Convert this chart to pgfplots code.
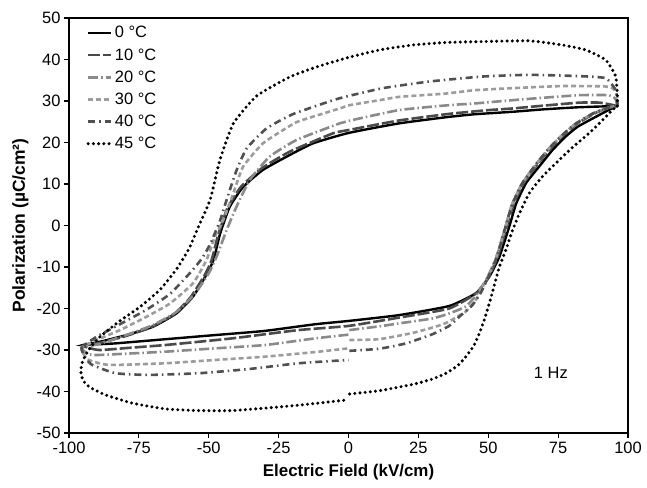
\documentclass[border=0pt]{standalone}
\usepackage{fontspec}
\setmainfont{Liberation Sans}
\usepackage{pgfplots}
\pgfplotsset{compat=1.18}

\definecolor{gA}{HTML}{4A4A4A}
\definecolor{gB}{HTML}{8A8A8A}
\definecolor{gC}{HTML}{9C9C9C}
\definecolor{gD}{HTML}{505050}

\begin{document}
\begin{tikzpicture}
\begin{axis}[
  scale only axis,
  width=559bp, height=415bp,
  xmin=-100, xmax=100, ymin=-50, ymax=50,
  xtick={-100,-75,...,100},
  ytick={-50,-40,...,50},
  xtick pos=bottom, ytick pos=left,
  tick align=outside,
  major tick length=5bp,
  tick style={black, line width=1.2bp},
  axis line style={line width=1.8bp},
  /pgf/number format/assume math mode=true,
  ticklabel style={font=\fontsize{16.5}{19}\selectfont},
  xticklabel style={yshift=-1bp},
  xlabel={\textbf{Electric Field (kV/cm)}},
  ylabel={\textbf{Polarization (µC/cm²)}},
  xlabel style={font=\fontsize{17}{20}\selectfont, at={(axis description cs:0.5,-0.094)}, anchor=center},
  ylabel style={font=\fontsize{17.5}{20}\selectfont, at={(axis description cs:-0.087,0.5)}, anchor=center},
  unbounded coords=jump,
  every axis plot/.append style={smooth, tension=0.3},
  legend cell align=left,
  legend style={at={(axis description cs:0.031,0.985)}, anchor=north west,
    draw=none, fill=none, font=\fontsize{16.5}{19}\selectfont,
    row sep=5.2bp, inner sep=0pt},
  legend image code/.code={\draw[#1, sharp plot] (0bp,0bp) -- (23bp,0bp);},
]

% 0 C
\addplot[black, line width=2.4bp] coordinates {
(96.2,28.8) (82.5,28.5) (70,28) (58.7,27.4) (45,26.8) (35,26.1) (18,24.6) (0,22.3)
(-12.7,19.8) (-21,17) (-30.6,13.4) (-37.7,9.3) (-42.5,4.5) (-45.9,-1.9) (-48.3,-8.3)
(-50.8,-11.8) (-55.6,-17.1) (-61.6,-21.2) (-70,-24.4) (-79.4,-26.4) (-88.9,-28.0) (-95,-28.8)
(-89,-28.6) (-83.3,-28.4) (-65.5,-27.4) (-47.7,-26.4) (-30,-25.4) (-12,-23.8) (0,-23)
(18,-21.6) (36,-19.4) (45.6,-16.3) (50.4,-12.3) (54,-7.5) (57.5,-0.3) (60,5.3)
(63.5,10.2) (68.2,14.2) (73,18.2) (77.8,21.5) (82,23.8) (88.5,26.2) (93,27.8) (96.2,28.8)
};
\addlegendentry{0 °C}

% 10 C
\addplot[gA, line width=2.6bp, dash pattern=on 12bp off 3bp] coordinates {
(96.2,28.8) (90,29.6) (82.5,29.6) (70,28.9) (58.7,28.2) (50,27.8) (36,26.9) (18,25.3) (0,23.0)
(-5.6,22.2) (-21,17.8) (-31,13.8) (-38.5,9.3) (-43.3,4.2) (-46.6,-2.2) (-49,-8.4)
(-51.5,-12) (-56.5,-17.3) (-62.5,-21.4) (-71,-24.6) (-80,-26.7) (-89,-28.3) (-95,-29)
(-89.3,-30) (-77,-29.4) (-65.5,-28.8) (-41.7,-27.2) (-17.9,-25.2) (0,-24.2)
(18,-22.2) (36,-20) (46,-16.2) (50,-12.6) (53.2,-7.8) (56.5,-0.5) (59,5) (62.5,10)
(67.2,14.4) (72,18.4) (77,21.8) (81.5,24.4) (88,27) (93,28.4) (96.2,28.8)
};
\addlegendentry{10 °C}

% 20 C
\addplot[gB, line width=2.6bp, dash pattern=on 10bp off 3bp on 1.5bp off 3bp] coordinates {
(96.2,28.8) (95.5,30.5) (93.2,31.4) (82.5,31.4) (70,30.8) (58.7,30.2) (45,29.4) (36,29)
(18,27.8) (0,25.2) (-3.2,24.6) (-18.6,20.6) (-28.2,16.6) (-35.3,11) (-40.1,4.5)
(-43.6,-1.1) (-47.2,-7.5) (-50,-11.5) (-55,-16.5) (-61.5,-20.8) (-70,-24) (-80,-26.5)
(-89,-28.5) (-95.5,-29.5)
(-93,-31) (-89.3,-31.2) (-65.5,-30.4) (-47.7,-29.6) (-29.8,-28.8) (-12,-27.2) (0,-26.3)
(0,nan)
(0.3,-25.2) (11,-24.3) (18,-23.6) (30,-22.4) (36,-21.2) (42,-19.5) (46,-16.5) (49.5,-12.8) (52.7,-8)
(56,-0.7) (58.5,5) (62,10) (66.7,14.4) (71.5,18.4) (76.5,21.8) (81,24.4) (87.5,27)
(93,28.4) (96.2,28.8)
};
\addlegendentry{20 °C}

% 30 C
\addplot[gC, line width=2.6bp, dash pattern=on 5bp off 3bp] coordinates {
(96.2,28.8) (96.2,31) (95,32.8) (92,33.5) (76.5,33.6) (58.7,33.1) (45,32.6) (34.9,31.8)
(18.2,31.0) (11.1,30.2) (0.4,29) (-3.2,28.2) (-17.5,25.2) (-21,24) (-30.6,19.8)
(-37.7,14.2) (-41.2,7.8) (-44.8,1.3) (-47.7,-2.5) (-50.8,-8.3) (-55.6,-13.9)
(-63.9,-18.8) (-72.3,-22) (-81.8,-25.2) (-90.1,-27.6) (-95.5,-29.5)
(-93.5,-32.2) (-88,-33.4) (-83.3,-33.6) (-65.5,-33.2) (-47.7,-32.4) (-29.8,-31.6)
(-12,-30.5) (0,-29.6)
(0,nan)
(0.3,-27.6) (11,-27.4) (22.9,-25.9) (30,-24.6) (34.9,-23.5) (42,-20.7) (46,-17.5)
(49.5,-12.8) (52.7,-8) (56,-0.7) (58.5,5) (62,10) (66.7,14.4) (71.5,18.4) (76.5,21.8)
(81,24.4) (87.5,27) (93,28.4) (96.2,28.8)
};
\addlegendentry{30 °C}

% 40 C
\addplot[gD, line width=2.6bp, dash pattern=on 7bp off 4bp on 1.5bp off 4bp] coordinates {
(96.2,28.8) (96,31) (95.6,32.7) (92,35.5) (82.5,36) (64.6,36.3) (48,35.9) (29,34.7)
(12.3,33.1) (0,31.2) (-5.5,30.2) (-20,26.8) (-29.3,23.4) (-36.4,18.6) (-40,13.4)
(-43.6,6.2) (-45.9,1.3) (-49.5,-4.5) (-52.5,-8) (-56.8,-11.5) (-63.9,-16.5)
(-72.3,-20.3) (-81.8,-23.8) (-90.1,-26.8) (-95.5,-29.5)
(-94,-32) (-91.7,-33.6) (-83.3,-35.6) (-71.4,-36) (-53.6,-35.6) (-35.8,-34.6)
(-17.9,-33.2) (0,-32.4)
(0,nan)
(0.3,-30.2) (11,-29.7) (20.6,-28.4) (30,-26.2) (36,-24.2) (39.6,-22) (44.3,-19.2)
(47.5,-16) (50,-12.5) (53,-7.8) (56,-0.7) (58.5,5) (62,10) (66.7,14.4) (71.5,18.4)
(76.5,21.8) (81,24.4) (87.5,27) (93,28.4) (96.2,28.8)
};
\addlegendentry{40 °C}

% 45 C
\addplot[black, line width=3.4bp, line cap=round, dash pattern=on 0bp off 5.2bp] coordinates {
(96.2,28.8) (96.2,31) (95.6,35.9) (92,39.9) (84.9,42.3) (76.5,43.5) (64.6,44.5)
(46.8,44.3) (34.9,44.1) (23,43.5) (11.1,42.3) (0,40.5) (-11,38.3) (-21,35.8)
(-32.9,31.2) (-41.2,24.6) (-46,15.8) (-49.5,6.2) (-53.5,0) (-57,-5.5) (-61.5,-10.5)
(-67.5,-15.5) (-74.6,-19.6) (-81.8,-23) (-88.9,-26.8) (-92.5,-29.5) (-95,-32.5)
(-95.8,-35) (-95,-37.3) (-92.5,-39) (-87,-40.8) (-77.4,-42.8) (-65.5,-44.2)
(-53.6,-44.6) (-41.7,-44.6) (-29.8,-44) (-17.9,-43.3) (0,-42)
(0,nan)
(0.4,-40.6) (11.1,-39.8) (22.9,-38.3) (30,-37) (34.9,-35.6) (39,-33.8) (42,-31.6)
(44.8,-29) (46.8,-26) (48.7,-22.5) (50.4,-18.7) (52.2,-14.3) (54,-9.9) (56.3,-5.9)
(58.5,-1.5) (61,2.7) (64.7,7.8) (69.4,11.8) (75.4,15.8) (80.1,18.8) (86.5,22.5)
(91.5,25.8) (94.5,27.9) (96.2,28.8)
};
\addlegendentry{45 °C}

\node[font=\fontsize{16.5}{19}\selectfont] at (axis cs:72.4,-35.6) {1 Hz};
\end{axis}
\pgfresetboundingbox
\path[use as bounding box] (-69bp,-55bp) rectangle (578bp,433bp);
\end{tikzpicture}
\end{document}
